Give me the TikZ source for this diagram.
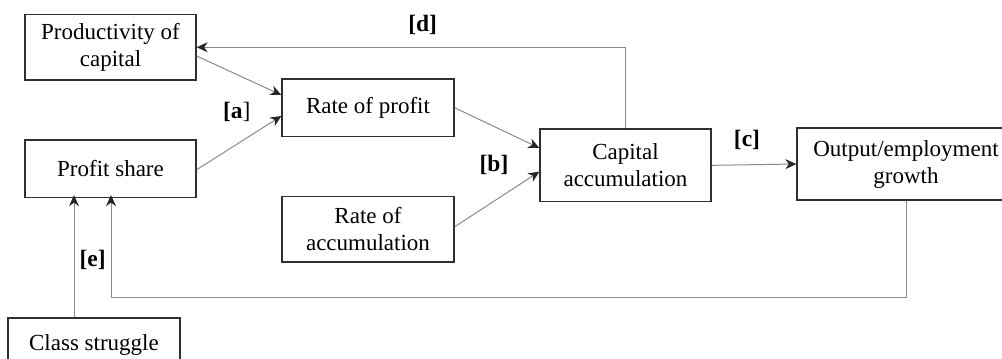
\documentclass[tikz,border=0pt]{standalone}
\usepackage{fontspec}
\setmainfont{Liberation Serif}
\usetikzlibrary{arrows.meta}
\definecolor{boxc}{HTML}{303030}
\definecolor{linec}{HTML}{8A8A8A}
\begin{document}
\begin{tikzpicture}[x=1pt,y=-1pt,
  box/.style={draw=boxc, line width=1.3pt, inner sep=0pt, align=center,
    font=\fontsize{23}{27}\selectfont},
  conn/.style={draw=linec, line width=1pt,
    -{Stealth[length=11pt,width=10pt,inset=3.5pt,color=black!85]}},
  lbl/.style={font=\fontsize{23.5}{27}\selectfont\bfseries, inner sep=0pt}]
\useasboundingbox (0,0) rectangle (1002,359);
\clip (0,0) rectangle (1002,359);

\node[box, minimum width=171pt, minimum height=65.5pt] (prod) at (110.5,47.25) {Productivity of\\capital};
\node[box, minimum width=171pt, minimum height=57.5pt] (share) at (110.5,168.75) {Profit share};
\node[box, minimum width=172pt, minimum height=57.5pt] (rop) at (368,107.75) {Rate of profit};
\node[box, minimum width=172pt, minimum height=65.3pt] (roa) at (368,229.35) {Rate of\\accumulation};
\node[box, minimum width=171pt, minimum height=72.7pt] (cap) at (625.5,165.35) {Capital\\accumulation};
\node[box, minimum width=218pt, minimum height=72pt] (out) at (906,164) {Output/employment\\growth};
\node[box, minimum width=172pt, minimum height=53pt] (cls) at (94,344.5) {Class struggle};

\draw[conn] ([yshift=-8.75pt]prod.east) -- ([yshift=12.75pt]rop.west);
\draw[conn] ([yshift=-1pt]share.east) -- ([yshift=-8.25pt]rop.west);
\draw[conn] (rop.east) -- ([yshift=17.35pt]cap.west);
\draw[conn] ([yshift=2.6pt]roa.east) -- ([yshift=-6.3pt]cap.west);
\draw[conn] (cap.east) -- (out.west);
\draw[conn] (cap.north) |- (prod.east);
\draw[conn, shorten >=-3pt] (out.south) -- ++(0,97.3) -| ([xshift=0.5pt]share.south);
\draw[conn, shorten >=-3pt] ([xshift=-20pt]cls.north) -- ([xshift=-36.5pt]share.south);

\node[lbl] (ld) at (422.7,25) {[d]};
\node[lbl] (la) at (236.7,111.7) {[a\mdseries]};
\node[lbl] (lb) at (494,165) {[b]};
\node[lbl] (lc) at (747,140) {[c]};
\node[lbl] (le) at (92.7,260) {[e]};
\end{tikzpicture}
\end{document}
